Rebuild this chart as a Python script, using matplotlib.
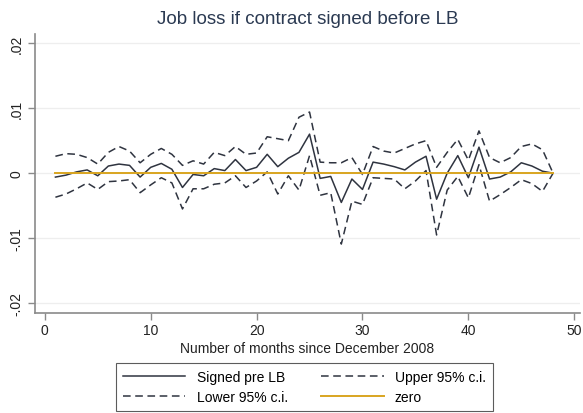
import matplotlib
matplotlib.use("Agg")
import matplotlib.pyplot as plt

months = list(range(1, 49))
signed = [-0.0006, -0.0003, 0.0002, 0.0005, -0.0004, 0.0011, 0.0014, 0.0012, -0.0006, 0.0009,
          0.0015, 0.0006, -0.0022, -0.0002, -0.0004, 0.0007, 0.0004, 0.0021, 0.0004, 0.0009,
          0.0029, 0.0010, 0.0023, 0.0032, 0.0060, -0.0008, -0.0005, -0.0045, -0.0009, -0.0025,
          0.0017, 0.0014, 0.0010, 0.0005, 0.0017, 0.0026, -0.0040, 0.0000, 0.0027, -0.0007,
          0.0040, -0.0009, -0.0006, 0.0002, 0.0016, 0.0011, 0.0003, 0.0000]
upper = [0.0026, 0.0030, 0.0029, 0.0024, 0.0014, 0.0032, 0.0041, 0.0034, 0.0016, 0.0029,
         0.0038, 0.0029, 0.0012, 0.0019, 0.0014, 0.0032, 0.0027, 0.0041, 0.0029, 0.0031,
         0.0056, 0.0053, 0.0050, 0.0086, 0.0094, 0.0017, 0.0016, 0.0016, 0.0024, -0.0002,
         0.0041, 0.0034, 0.0031, 0.0038, 0.0045, 0.0050, 0.0009, 0.0032, 0.0052, 0.0020,
         0.0065, 0.0024, 0.0016, 0.0024, 0.0041, 0.0045, 0.0036, 0.0000]
lower = [-0.0037, -0.0032, -0.0024, -0.0015, -0.0025, -0.0013, -0.0012, -0.0010, -0.0030, -0.0018,
         -0.0007, -0.0015, -0.0055, -0.0024, -0.0024, -0.0017, -0.0015, -0.0004, -0.0022, -0.0012,
         0.0002, -0.0032, -0.0004, -0.0026, 0.0027, -0.0034, -0.0030, -0.0109, -0.0043, -0.0048,
         -0.0007, -0.0008, -0.0009, -0.0024, -0.0012, 0.0004, -0.0095, -0.0026, -0.0005, -0.0038,
         0.0013, -0.0043, -0.0033, -0.0022, -0.0010, -0.0016, -0.0028, 0.0000]
zero = [0.0] * len(months)

xticks = [0, 10, 20, 30, 40, 50]
yticks = [-0.02, -0.01, 0.0, 0.01, 0.02]
ytick_labels = ["-.02", "-.01", "0", ".01", ".02"]

plt.rcParams['font.family'] = ['Liberation Sans', 'DejaVu Sans']

fig = plt.figure(figsize=(5.83, 4.14), dpi=100)
fig.patch.set_facecolor("white")
ax = fig.add_axes([0.060, 0.2415, 0.935, 0.674])

for y in yticks:
    ax.axhline(y, color="#eeeeee", lw=0.9, zorder=0)

l1, = ax.plot(months, signed, color="#2f3440", lw=1.1, label="Signed pre LB", zorder=3)
l2, = ax.plot(months, upper, color="#2f3440", lw=1.1, ls=(0, (5, 3)), label="Upper 95% c.i.", zorder=3)
l3, = ax.plot(months, lower, color="#2f3440", lw=1.1, ls=(0, (5, 3)), label="Lower 95% c.i.", zorder=3)
l4, = ax.plot(months, zero, color="#d9a520", lw=1.4, label="zero", zorder=4)

ax.set_xlim(-0.93, 50.55)
ax.set_ylim(-0.0215, 0.0214)
ax.set_xticks(xticks)
ax.set_xticklabels([str(t) for t in xticks])
ax.set_yticks(yticks)
ax.set_yticklabels(ytick_labels, rotation=90, va="center")

for s in ["top", "right"]:
    ax.spines[s].set_visible(False)
for s in ["left", "bottom"]:
    ax.spines[s].set_color("#8a8a8a")
    ax.spines[s].set_linewidth(1.2)
ax.tick_params(axis="both", colors="#8a8a8a", labelcolor="#222222", labelsize=10, length=5, width=1)
ax.tick_params(axis="x", pad=2)
ax.tick_params(axis="y", pad=3)

ax.set_xlabel("Number of months since December 2008", fontsize=10, color="#222222", labelpad=3)
ax.set_title("Job loss if contract signed before LB", fontsize=13.5, color="#2b3a52", pad=8)

leg = fig.legend(handles=[l1, l3, l2, l4], loc="lower center", bbox_to_anchor=(0.522, -0.012),
                 ncol=2, frameon=True, fancybox=False, fontsize=10, handlelength=4.5,
                 columnspacing=2.4, handletextpad=0.8, borderpad=0.5, labelspacing=0.45)
leg.get_frame().set_edgecolor("#333333")
leg.get_frame().set_linewidth(0.8)

fig.savefig("out.png", dpi=100, facecolor="white")
